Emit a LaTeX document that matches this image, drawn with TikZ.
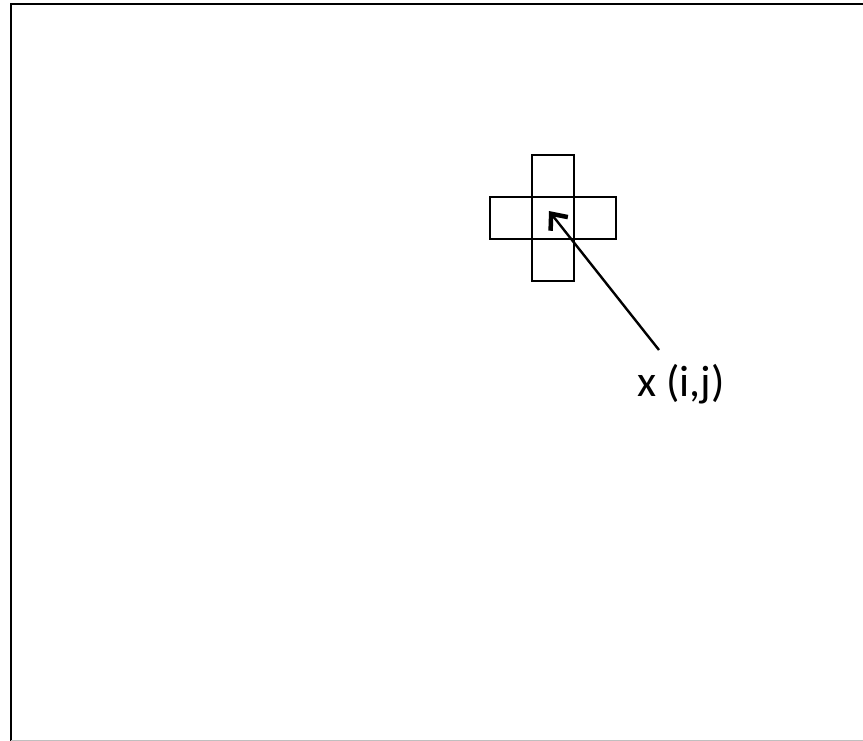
\documentclass[tikz,border=0pt]{standalone}
\usepackage{fontspec}
\setmainfont{Carlito}
\usetikzlibrary{arrows.meta}
\begin{document}
\begin{tikzpicture}[x=1pt,y=-1pt,
  cell/.style={draw=black,line width=2.4pt,minimum width=42pt,minimum height=42pt,inner sep=0pt,outer sep=0pt},
  pointer/.style={line width=2.4pt,-{Straight Barb[length=13pt,width=22pt,line width=4.5pt]}},
  frameline/.style={line width=2.6pt}]
\useasboundingbox (0,0) rectangle (863,741);
\draw[frameline] (11,741) -- (11,4) -- (863,4);
\draw[line width=1pt,black!25] (11,740) -- (863,740);
\node[cell] (top) at (553,176) {};
\node[cell] (mid) at (553,218) {};
\node[cell] (bot) at (553,260) {};
\node[cell] (left) at (511,218) {};
\node[cell] (right) at (595,218) {};
\node[font=\fontsize{44}{50}\selectfont,inner sep=0pt,anchor=base] (lbl) at (681,396) {x (i,j)};
\coordinate (start) at (659,350);
\coordinate (tip) at (549,211);
\draw[pointer] (start) -- (tip);
\end{tikzpicture}
\end{document}
